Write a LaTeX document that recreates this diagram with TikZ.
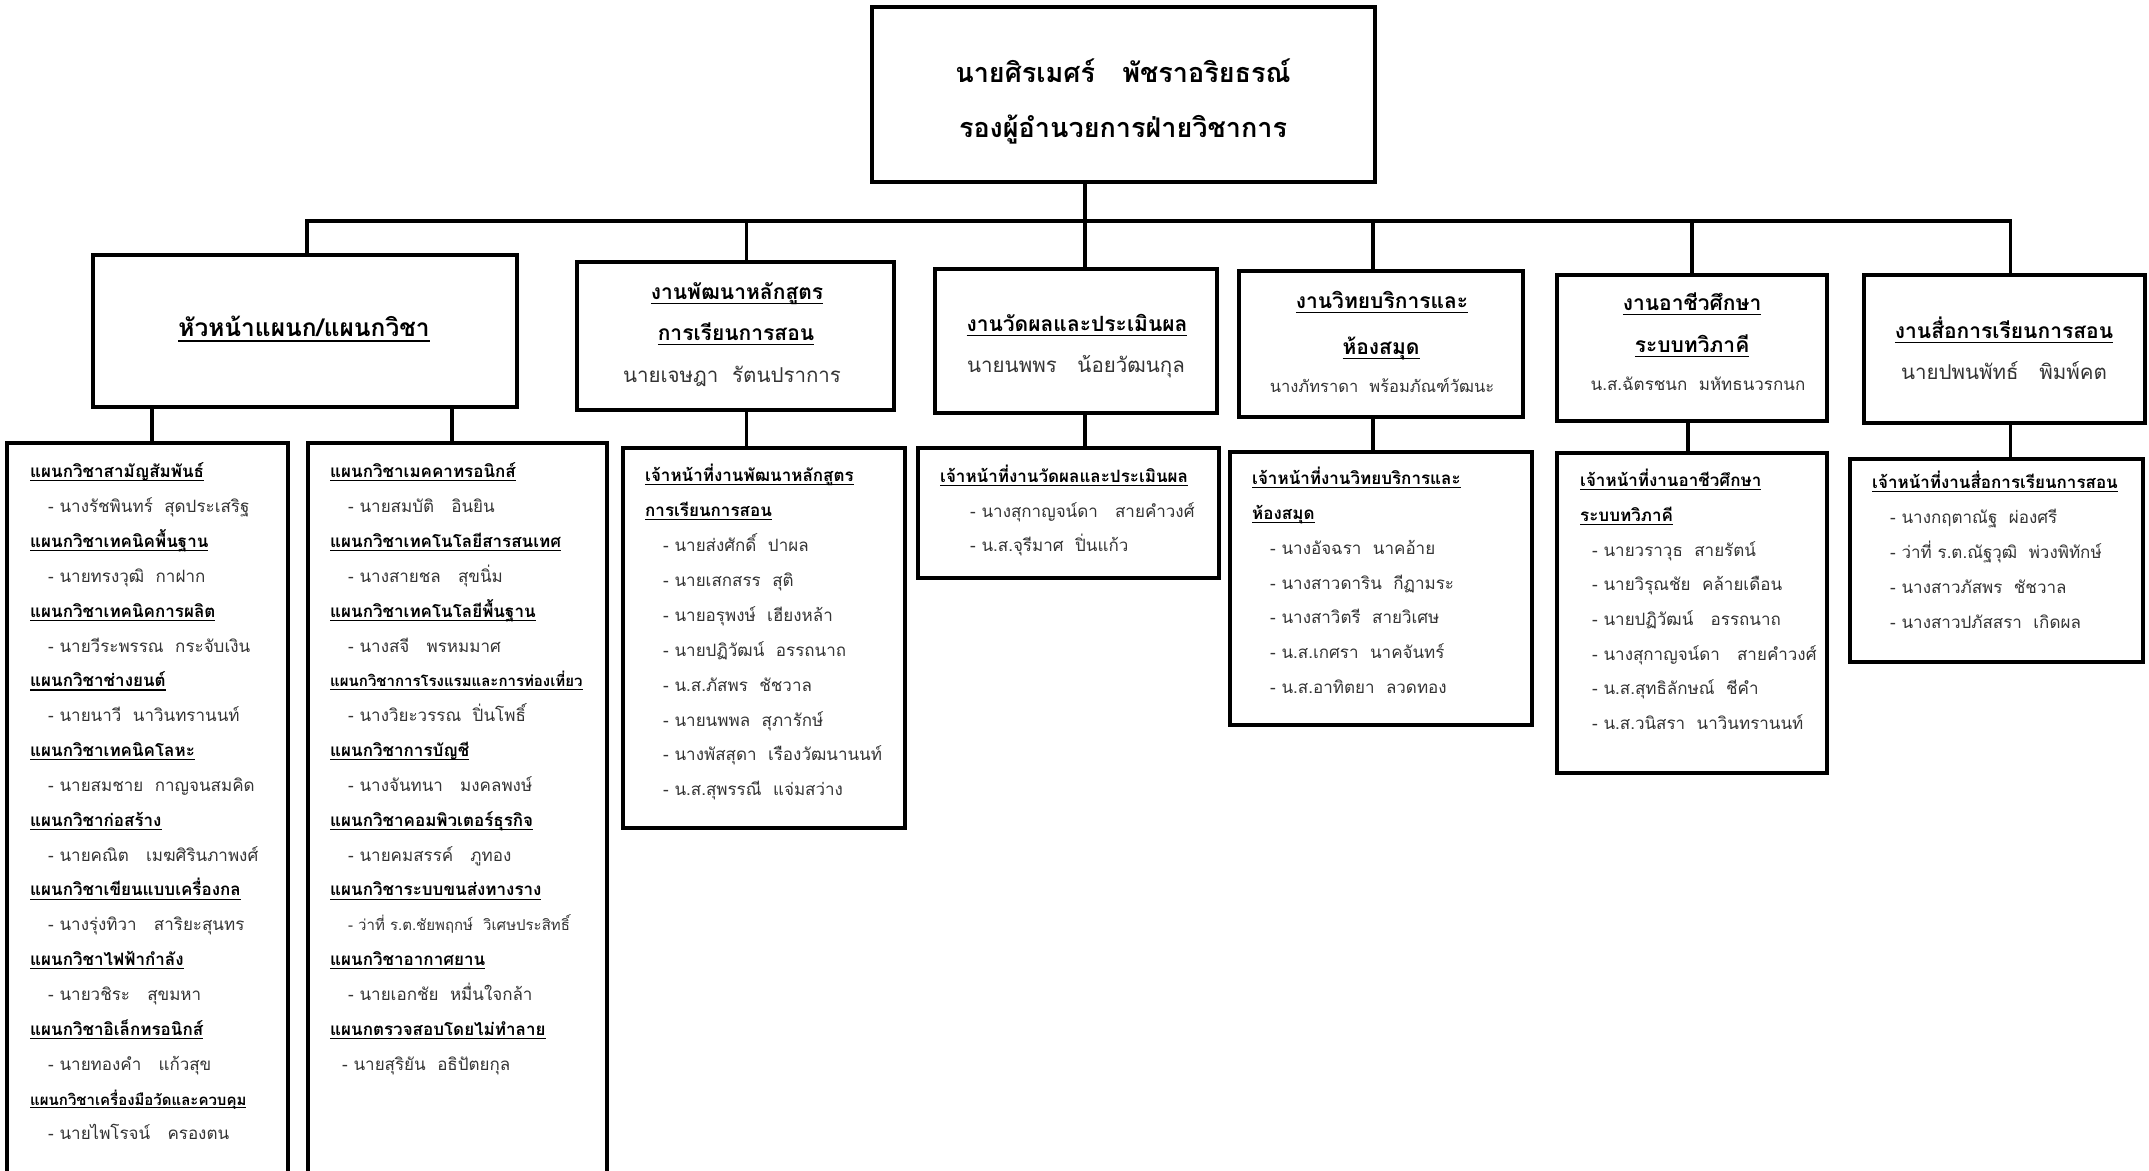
\documentclass[tikz,border=0pt]{standalone}
\usepackage{fontspec}
\setmainfont[Script=Thai]{Loma}

% underline at a fixed depth
\newcommand{\thul}[1]{\setbox0\hbox{#1}\rlap{\rule[-0.22em]{\wd0}{0.07em}}\box0}

\begin{document}
\begin{tikzpicture}[x=1pt, y=-1pt,
    box/.style={draw, line width=3.5pt, inner sep=0pt},
    link/.style={line width=3.5pt},
    big/.style={inner sep=0pt, text height=0.75em, text depth=0.25em, font=\bfseries\fontsize{27}{30}\selectfont},
    ttl/.style={inner sep=0pt, text height=0.95em, text depth=0pt, font=\bfseries\fontsize{21}{24}\selectfont},
    who/.style={inner sep=0pt, text height=0.95em, text depth=0pt, font=\fontsize{20.5}{24}\selectfont, text=black!80},
    whos/.style={who, font=\fontsize{17}{20}\selectfont},
    hd/.style={anchor=west, inner sep=0pt, text height=0.95em, text depth=0pt, font=\bfseries\fontsize{17}{20}\selectfont},
    hds/.style={hd, font=\bfseries\fontsize{15}{18}\selectfont},
    nm/.style={anchor=west, inner sep=0pt, text height=0.95em, text depth=0pt, xshift=18pt, font=\fontsize{17}{20}\selectfont, text=black!80},
    nms/.style={nm, font=\fontsize{15}{18}\selectfont},
    nml/.style={nm, xshift=-6pt}]
  \useasboundingbox (0,0) rectangle (2149,1170);
  \clip (0,0) rectangle (2149,1170);

  % top
  \node[box, minimum width=503, minimum height=175] (head) at (1123.5,94.5) {};
  \node[big] (head-n) at (1123,80) {นายศิรเมศร์~~~พัชราอริยธรณ์};
  \node[big] (head-p) at (1123,135) {รองผู้อำนวยการฝ่ายวิชาการ};

  % second row
  \node[box, minimum width=424, minimum height=152] (dept) at (305,331) {};
  \node[ttl, font=\bfseries\fontsize{24.5}{28}\selectfont] (dept-t) at (304,332) {\thul{หัวหน้าแผนก/แผนกวิชา}};

  \node[box, minimum width=317, minimum height=148] (curri) at (735.5,336) {};
  \node[ttl] (curri-t1) at (737,295) {\thul{งานพัฒนาหลักสูตร}};
  \node[ttl] (curri-t2) at (736,336) {\thul{การเรียนการสอน}};
  \node[who] (curri-n) at (732,378) {นายเจษฎา~~รัตนปราการ};

  \node[box, minimum width=282, minimum height=144] (eval) at (1076,341) {};
  \node[ttl] (eval-t) at (1077,327) {\thul{งานวัดผลและประเมินผล}};
  \node[who] (eval-n) at (1076,368) {นายนพพร~~~น้อยวัฒนกุล};

  \node[box, minimum width=284, minimum height=146] (lib) at (1381,344) {};
  \node[ttl] (lib-t1) at (1382,304) {\thul{งานวิทยบริการและ}};
  \node[ttl] (lib-t2) at (1381,350) {\thul{ห้องสมุด}};
  \node[whos, font=\fontsize{16.5}{20}\selectfont] (lib-n) at (1382,388) {นางภัทราดา~~พร้อมภัณฑ์วัฒนะ};

  \node[box, minimum width=270, minimum height=146] (dual) at (1692,348) {};
  \node[ttl] (dual-t1) at (1692,306) {\thul{งานอาชีวศึกษา}};
  \node[ttl] (dual-t2) at (1692,348) {\thul{ระบบทวิภาคี}};
  \node[whos] (dual-n) at (1698,386) {น.ส.ฉัตรชนก~~มหัทธนวรกนก};

  \node[box, minimum width=281, minimum height=148] (media) at (2004.5,349) {};
  \node[ttl] (media-t) at (2004,334) {\thul{งานสื่อการเรียนการสอน}};
  \node[who] (media-n) at (2004,375) {นายปพนพัทธ์~~~พิมพ์คต};

  % third row
  \node[box, minimum width=281, minimum height=752] (c1) at (147.5,819) {};
  \node[box, minimum width=299, minimum height=752] (c2) at (457.5,819) {};
  \node[box, minimum width=282, minimum height=380] (c3) at (764,638) {};
  \node[box, minimum width=301, minimum height=130] (c4) at (1068.5,513) {};
  \node[box, minimum width=302, minimum height=273] (c5) at (1381,588.5) {};
  \node[box, minimum width=270, minimum height=320] (c6) at (1692,613) {};
  \node[box, minimum width=293, minimum height=203] (c7) at (1996.5,560.5) {};

  % lines
  \coordinate (bus) at (1085,221);
  \draw[link] (head.south -| bus) -- (bus);
  \draw[link] ([xshift=2]dept.north) |- (bus) -| ([xshift=6]media.north);
  \draw[link] ([xshift=11]curri.north) -- ([xshift=11]curri.north |- bus);
  \draw[link] ([xshift=9]eval.north) -- ([xshift=9]eval.north |- bus);
  \draw[link] ([xshift=-8]lib.north) -- ([xshift=-8]lib.north |- bus);
  \draw[link] (dual.north) -- (dual.north |- bus);

  \draw[link] ([xshift=4.5]c1.north) -- ([xshift=4.5]c1.north |- dept.south);
  \draw[link] ([xshift=-5.5]c2.north) -- ([xshift=-5.5]c2.north |- dept.south);
  \draw[link] ([xshift=11]curri.south) -- ([xshift=11]curri.south |- c3.north);
  \draw[link] ([xshift=9]eval.south) -- ([xshift=9]eval.south |- c4.north);
  \draw[link] ([xshift=-8]lib.south) -- ([xshift=-8]lib.south |- c5.north);
  \draw[link] ([xshift=-4]dual.south) -- ([xshift=-4]dual.south |- c6.north);
  \draw[link] ([xshift=6]media.south) -- ([xshift=6]media.south |- c7.north);

  % departments
  \foreach \kind/\txt [count=\i] in {
      hd/\thul{แผนกวิชาสามัญสัมพันธ์}, nm/- นางรัชพินทร์~~สุดประเสริฐ,
      hd/\thul{แผนกวิชาเทคนิคพื้นฐาน}, nm/- นายทรงวุฒิ~~กาฝาก,
      hd/\thul{แผนกวิชาเทคนิคการผลิต}, nm/- นายวีระพรรณ~~กระจับเงิน,
      hd/\thul{แผนกวิชาช่างยนต์}, nm/- นายนาวี~~นาวินทรานนท์,
      hd/\thul{แผนกวิชาเทคนิคโลหะ}, nm/- นายสมชาย~~กาญจนสมคิด,
      hd/\thul{แผนกวิชาก่อสร้าง}, nm/- นายคณิต~~~เมฆศิรินภาพงศ์,
      hd/\thul{แผนกวิชาเขียนแบบเครื่องกล}, nm/- นางรุ่งทิวา~~~สาริยะสุนทร,
      hd/\thul{แผนกวิชาไฟฟ้ากำลัง}, nm/- นายวชิระ~~~สุขมหา,
      hd/\thul{แผนกวิชาอิเล็กทรอนิกส์}, nm/- นายทองคำ~~~แก้วสุข,
      hds/\thul{แผนกวิชาเครื่องมือวัดและควบคุม}, nm/- นายไพโรจน์~~~ครองตน}
    \node[\kind] (c1-\i) at (30,{473+34.85*(\i-1)}) {\txt};

  \foreach \kind/\txt [count=\i] in {
      hd/\thul{แผนกวิชาเมคคาทรอนิกส์}, nm/- นายสมบัติ~~~อินยิน,
      hd/\thul{แผนกวิชาเทคโนโลยีสารสนเทศ}, nm/- นางสายชล~~~สุขนิ่ม,
      hd/\thul{แผนกวิชาเทคโนโลยีพื้นฐาน}, nm/- นางสจี~~~พรหมมาศ,
      hds/\thul{แผนกวิชาการโรงแรมและการท่องเที่ยว}, nm/- นางวิยะวรรณ~~ปิ่นโพธิ์,
      hd/\thul{แผนกวิชาการบัญชี}, nm/- นางจันทนา~~~มงคลพงษ์,
      hd/\thul{แผนกวิชาคอมพิวเตอร์ธุรกิจ}, nm/- นายคมสรรค์~~~ภูทอง,
      hd/\thul{แผนกวิชาระบบขนส่งทางราง}, nms/- ว่าที่ ร.ต.ชัยพฤกษ์~~วิเศษประสิทธิ์,
      hd/\thul{แผนกวิชาอากาศยาน}, nm/- นายเอกชัย~~หมื่นใจกล้า,
      hd/\thul{แผนกตรวจสอบโดยไม่ทำลาย}, nml/- นายสุริยัน~~อธิปัตยกุล}
    \node[\kind] (c2-\i) at (330,{473+34.85*(\i-1)}) {\txt};

  % staff
  \foreach \kind/\txt [count=\i] in {
      hd/\thul{เจ้าหน้าที่งานพัฒนาหลักสูตร}, hd/\thul{การเรียนการสอน},
      nm/- นายส่งศักดิ์~~ปาผล, nm/- นายเสกสรร~~สุติ,
      nm/- นายอรุพงษ์~~เฮียงหล้า, nm/- นายปฏิวัฒน์~~อรรถนาถ,
      nm/- น.ส.ภัสพร~~ชัชวาล, nm/- นายนพพล~~สุภารักษ์,
      nm/- นางพัสสุดา~~เรืองวัฒนานนท์, nm/- น.ส.สุพรรณี~~แจ่มสว่าง}
    \node[\kind] (c3-\i) at (645,{477+34.9*(\i-1)}) {\txt};

  \begin{scope}[nm/.append style={xshift=12pt}]
  \foreach \kind/\txt [count=\i] in {
      hd/\thul{เจ้าหน้าที่งานวัดผลและประเมินผล},
      nm/- นางสุกาญจน์ดา~~~สายคำวงศ์, nm/- น.ส.จุรีมาศ~~ปิ่นแก้ว}
    \node[\kind] (c4-\i) at (940,{478+34.5*(\i-1)}) {\txt};
  \end{scope}

  \foreach \kind/\txt [count=\i] in {
      hd/\thul{เจ้าหน้าที่งานวิทยบริการและ}, hd/\thul{ห้องสมุด},
      nm/- นางอัจฉรา~~นาคอ้าย, nm/- นางสาวดาริน~~กีฏามระ,
      nm/- นางสาวิตรี~~สายวิเศษ, nm/- น.ส.เกศรา~~นาคจันทร์,
      nm/- น.ส.อาทิตยา~~ลวดทอง}
    \node[\kind] (c5-\i) at (1252,{480+34.8*(\i-1)}) {\txt};

  \begin{scope}[nm/.append style={xshift=-6pt}]
  \foreach \kind/\txt [count=\i] in {
      hd/\thul{เจ้าหน้าที่งานอาชีวศึกษา}, hd/\thul{ระบบทวิภาคี},
      nm/- นายวราวุธ~~สายรัตน์, nm/- นายวิรุณชัย~~คล้ายเดือน,
      nm/- นายปฏิวัฒน์~~~อรรถนาถ, nm/- นางสุกาญจน์ดา~~~สายคำวงศ์,
      nm/- น.ส.สุทธิลักษณ์~~ชีคำ, nm/- น.ส.วนิสรา~~นาวินทรานนท์}
    \node[\kind] (c6-\i) at (1580,{482+34.7*(\i-1)}) {\txt};
  \end{scope}

  \foreach \kind/\txt [count=\i] in {
      hd/\thul{เจ้าหน้าที่งานสื่อการเรียนการสอน},
      nm/- นางกฤตาณัฐ~~ผ่องศรี, nm/- ว่าที่ ร.ต.ณัฐวุฒิ~~พ่วงพิทักษ์,
      nm/- นางสาวภัสพร~~ชัชวาล, nm/- นางสาวปภัสสรา~~เกิดผล}
    \node[\kind] (c7-\i) at (1872,{484+35*(\i-1)}) {\txt};
\end{tikzpicture}
\end{document}
